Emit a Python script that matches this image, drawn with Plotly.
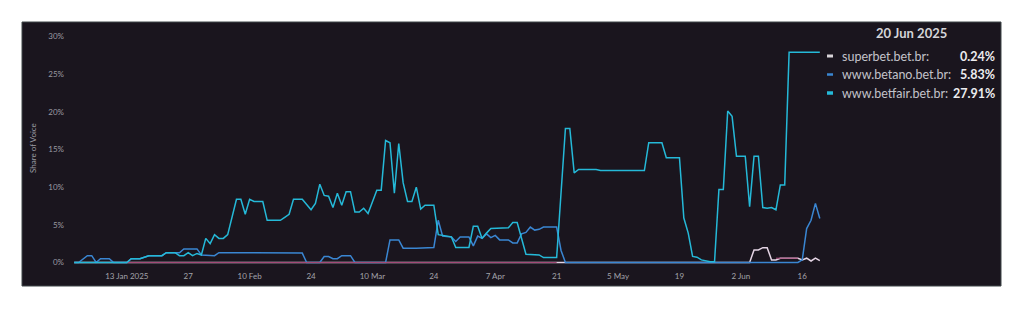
import plotly.graph_objects as go
from datetime import datetime

# ---------------- data ----------------
series_names = ["superbet.bet.br", "www.betano.bet.br", "www.betfair.bet.br"]

betfair_dates = ["2025-01-01", "2025-01-13", "2025-01-14", "2025-01-16", "2025-01-18", "2025-01-21",
                 "2025-01-22", "2025-01-24", "2025-01-25", "2025-01-26", "2025-01-27", "2025-01-28",
                 "2025-01-29", "2025-01-30", "2025-01-31", "2025-02-01", "2025-02-02", "2025-02-03",
                 "2025-02-04", "2025-02-05", "2025-02-07", "2025-02-08", "2025-02-09", "2025-02-10",
                 "2025-02-11", "2025-02-13", "2025-02-14", "2025-02-17", "2025-02-18", "2025-02-19",
                 "2025-02-20", "2025-02-22", "2025-02-24", "2025-02-25", "2025-02-26", "2025-02-27",
                 "2025-02-28", "2025-03-01", "2025-03-02", "2025-03-03", "2025-03-04", "2025-03-05",
                 "2025-03-06", "2025-03-07", "2025-03-08", "2025-03-09", "2025-03-11", "2025-03-12",
                 "2025-03-13", "2025-03-14", "2025-03-15", "2025-03-16", "2025-03-17", "2025-03-18",
                 "2025-03-19", "2025-03-20", "2025-03-21", "2025-03-22", "2025-03-24", "2025-03-25",
                 "2025-03-28", "2025-03-29", "2025-04-01", "2025-04-02", "2025-04-03", "2025-04-04",
                 "2025-04-05", "2025-04-06", "2025-04-10", "2025-04-11", "2025-04-12", "2025-04-14",
                 "2025-04-17", "2025-04-18", "2025-04-21", "2025-04-23", "2025-04-24", "2025-04-25",
                 "2025-04-26", "2025-04-30", "2025-05-01", "2025-05-11", "2025-05-12", "2025-05-15",
                 "2025-05-16", "2025-05-19", "2025-05-20", "2025-05-21", "2025-05-22", "2025-05-23",
                 "2025-05-24", "2025-05-26", "2025-05-27", "2025-05-28", "2025-05-29", "2025-05-30",
                 "2025-05-31", "2025-06-01", "2025-06-03", "2025-06-04", "2025-06-05", "2025-06-06",
                 "2025-06-07", "2025-06-08", "2025-06-09", "2025-06-10", "2025-06-11", "2025-06-12",
                 "2025-06-13", "2025-06-20"]
betfair_vals = [0, 0, 0.5, 0.5, 0.9, 0.9,
                1.3, 1.3, 0.9, 0.9, 1.3, 0.9,
                1.2, 1.0, 3.2, 2.5, 3.7, 3.2,
                3.2, 3.7, 8.4, 8.4, 6.4, 8.4,
                8.1, 8.1, 5.6, 5.6, 6.0, 6.4,
                8.4, 8.4, 7.0, 7.85, 10.4, 8.9,
                8.8, 7.3, 9.2, 7.6, 9.4, 9.4,
                6.7, 6.7, 7.2, 6.5, 9.6, 9.6,
                16.2, 15.9, 9.2, 15.8, 10.6, 8.1,
                8.1, 10.0, 7.1, 7.6, 7.6, 3.7,
                3.4, 2.0, 2.0, 4.8, 4.8, 3.2,
                3.9, 4.5, 4.6, 5.3, 5.3, 1.1,
                1.0, 0.65, 0.65, 17.8, 17.8, 11.9,
                12.35, 12.35, 12.2, 12.2, 15.9, 15.9,
                13.9, 13.9, 5.9, 3.9, 0.8, 0.7,
                0.35, 0.1, 0.1, 9.7, 9.7, 20.1,
                19.4, 14.1, 14.1, 7.4, 14.1, 14.1,
                7.3, 7.2, 7.3, 7.0, 10.3, 10.3,
                27.91, 27.91]

betano_dates = ["2025-01-01", "2025-01-02", "2025-01-04", "2025-01-05", "2025-01-06", "2025-01-07",
                "2025-01-09", "2025-01-10", "2025-01-13", "2025-01-14", "2025-01-16", "2025-01-18",
                "2025-01-21", "2025-01-22", "2025-01-25", "2025-01-26", "2025-01-29", "2025-01-30",
                "2025-02-02", "2025-02-03", "2025-02-22", "2025-02-23", "2025-02-26", "2025-02-27",
                "2025-02-28", "2025-03-01", "2025-03-02", "2025-03-03", "2025-03-05", "2025-03-06",
                "2025-03-13", "2025-03-14", "2025-03-16", "2025-03-17", "2025-03-20", "2025-03-24",
                "2025-03-25", "2025-03-26", "2025-03-28", "2025-03-29", "2025-03-30", "2025-04-01",
                "2025-04-02", "2025-04-03", "2025-04-04", "2025-04-05", "2025-04-06", "2025-04-07",
                "2025-04-08", "2025-04-10", "2025-04-11", "2025-04-12", "2025-04-13", "2025-04-14",
                "2025-04-15", "2025-04-16", "2025-04-17", "2025-04-18", "2025-04-21", "2025-04-22",
                "2025-04-23", "2025-06-15", "2025-06-16", "2025-06-17", "2025-06-18", "2025-06-19",
                "2025-06-20"]
betano_vals = [0, 0, 0.9, 0.9, 0, 0.5,
               0.5, 0, 0, 0.5, 0.5, 0.9,
               0.9, 1.3, 1.3, 1.8, 1.8, 1.0,
               0.9, 1.3, 1.25, 0, 0, 0.8,
               0.8, 0.5, 0.5, 0.9, 0.9, 0,
               0, 3.0, 3.0, 1.9, 1.9, 2.0,
               5.6, 3.5, 3.4, 2.8, 3.4, 3.4,
               2.2, 3.5, 3.2, 3.8, 3.3, 3.6,
               3.0, 3.0, 2.6, 2.6, 3.8, 4.0,
               4.7, 4.3, 4.4, 4.7, 4.7, 1.6,
               0, 0, 0.35, 4.5, 5.6, 7.85,
               5.83]

superbet_dates = ["2025-01-01", "2025-06-04", "2025-06-05", "2025-06-06", "2025-06-07", "2025-06-08",
                  "2025-06-09", "2025-06-10", "2025-06-11", "2025-06-15", "2025-06-16", "2025-06-17",
                  "2025-06-18", "2025-06-19", "2025-06-20"]
superbet_vals = [0, 0, 1.67, 1.67, 1.97, 1.97,
                 0.34, 0.34, 0.57, 0.57, 0.34, 0.57,
                 0.2, 0.57, 0.24]

other_dates = ["2025-01-13", "2025-04-21", None, "2025-06-10", "2025-06-15"]
other_vals = [0, 0, None, 0.57, 0.57]

x_tick_vals = ["2025-01-13", "2025-01-27", "2025-02-10", "2025-02-24", "2025-03-10", "2025-03-24",
               "2025-04-07", "2025-04-21", "2025-05-05", "2025-05-19", "2025-06-02", "2025-06-16"]
x_tick_text = ["13 Jan 2025", "27", "10 Feb", "24", "10 Mar", "24", "7 Apr", "21", "5 May", "19", "2 Jun", "16"]
y_tick_vals = [0, 5, 10, 15, 20, 25, 30]
y_tick_text = ["0%", "5%", "10%", "15%", "20%", "25%", "30%"]

colors = {"superbet": "#e4d4e4", "betano": "#3a86d2", "betfair": "#25b9d8", "other": "#a44a78"}

# ---------------- figure ----------------
FONT = "Lato, 'Open Sans', sans-serif"
W, H = 1024, 309
ML, MR, MT, MB = 72, 202, 35, 45
PW, PH = W - ML - MR, H - MT - MB


def px(x):
    return (x - ML) / PW


def py(y):
    return (H - MB - y) / PH


fig = go.Figure()
fig.add_trace(go.Scatter(x=superbet_dates, y=superbet_vals, mode="lines",
                         line=dict(color=colors["superbet"], width=1.5), hoverinfo="skip"))
fig.add_trace(go.Scatter(x=betano_dates, y=betano_vals, mode="lines",
                         line=dict(color=colors["betano"], width=1.5), hoverinfo="skip"))
fig.add_trace(go.Scatter(x=other_dates, y=other_vals, mode="lines", connectgaps=False,
                         line=dict(color=colors["other"], width=1.1), hoverinfo="skip"))
fig.add_trace(go.Scatter(x=betfair_dates, y=betfair_vals, mode="lines",
                         line=dict(color=colors["betfair"], width=1.5), hoverinfo="skip"))

shapes = [dict(type="rect", xref="paper", yref="paper", x0=px(22), x1=px(1001), y0=py(286), y1=py(22),
               fillcolor="#1a151e", line=dict(color="#3e4648", width=1), layer="below")]
annotations = [
    dict(text="Share of Voice", xref="paper", yref="paper", x=px(33), y=py(148), textangle=-90,
         showarrow=False, font=dict(size=8, color="#9b9ba3", family=FONT), xanchor="center", yanchor="middle"),
]

last_date = datetime.strptime(betfair_dates[-1], "%Y-%m-%d")
annotations.append(dict(text="<b>%d %s</b>" % (last_date.day, last_date.strftime("%b %Y")),
                        xref="paper", yref="paper", x=px(911), y=py(33), showarrow=False,
                        font=dict(size=13, color="#d4d4d8", family=FONT), xanchor="center", yanchor="middle"))

rows = [(series_names[0], superbet_vals[-1], "#d8d4d8", 3, 56),
        (series_names[1], betano_vals[-1], colors["betano"], 2.5, 74.5),
        (series_names[2], betfair_vals[-1], colors["betfair"], 3.5, 93)]
for name, val, col, lw, yy in rows:
    shapes.append(dict(type="line", xref="paper", yref="paper", x0=px(827), x1=px(833), y0=py(yy), y1=py(yy),
                       line=dict(color=col, width=lw)))
    annotations.append(dict(text=name + ":", xref="paper", yref="paper", x=px(840), y=py(yy), showarrow=False,
                            font=dict(size=12.5, color="#c3c3ca", family=FONT), xanchor="left", yanchor="middle"))
    annotations.append(dict(text="<b>%.2f%%</b>" % val, xref="paper", yref="paper", x=px(997), y=py(yy),
                            showarrow=False, font=dict(size=12.5, color="#ececef", family=FONT),
                            xanchor="right", yanchor="middle"))

fig.update_layout(
    width=W, height=H,
    margin=dict(l=ML, r=MR, t=MT, b=MB, pad=0),
    paper_bgcolor="white", plot_bgcolor="rgba(0,0,0,0)",
    showlegend=False,
    font=dict(family=FONT),
    shapes=shapes, annotations=annotations,
    xaxis=dict(type="date", range=["2024-12-31 12:00", "2025-06-20 12:00"],
               tickmode="array", tickvals=x_tick_vals, ticktext=x_tick_text,
               tickfont=dict(size=8, color="#a3a3aa", family=FONT),
               showgrid=False, zeroline=False, showline=False, ticks="", ticklabelstandoff=6),
    yaxis=dict(range=[-0.2, 30.2], tickmode="array", tickvals=y_tick_vals, ticktext=y_tick_text,
               tickfont=dict(size=8, color="#9b9ba3", family=FONT),
               showgrid=False, zeroline=False, showline=False, ticks="", ticklabelstandoff=7),
)

fig.write_html("out.html")
